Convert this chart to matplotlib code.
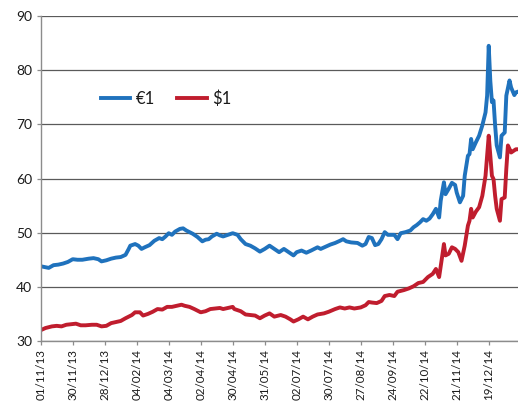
"""
Price trend of €1 vs $1 - daily closes, Nov 2013 to Jan 2015
"""
import matplotlib
matplotlib.use("Agg")
import matplotlib.pyplot as plt

BLUE = "#1f72bd"
RED = "#c01d2e"
GRID_COLOR = "#5a5a5a"
AXIS_COLOR = "#8c8c8c"
TEXT_COLOR = "#1a1a1a"

# trading-day index -> price
eur_idx = [0, 5, 8, 11, 14, 17, 20, 23, 26, 30, 33, 36, 38, 41, 44, 47, 50, 53, 55, 56,
           59, 61, 63, 65, 68, 71, 74, 76, 78, 80, 82, 84, 87, 89, 91, 93, 95, 98, 101, 103,
           105, 107, 110, 112, 114, 117, 120, 123, 125, 128, 131, 134, 137, 140, 143, 146, 149, 152, 155, 158,
           160, 163, 166, 169, 173, 175, 178, 181, 184, 187, 189, 191, 194, 198, 201, 203, 205, 207, 209, 211,
           213, 215, 217, 219, 221, 223, 225, 228, 231, 233, 235, 237, 239, 241, 243, 245, 247, 249, 250, 252,
           253, 255, 257, 259, 260, 262, 264, 265, 267, 268, 269, 270, 272, 274, 276, 278, 279, 280, 281, 282,
           283, 284, 285, 287, 288, 290, 291, 293, 294, 296, 297, 298]
eur_val = [43.8, 43.5, 44.0, 44.1, 44.3, 44.6, 45.1, 45.0, 45.0, 45.2, 45.3, 45.1, 44.7, 44.9, 45.2, 45.4, 45.5, 45.9, 47.0, 47.6,
           47.9, 47.6, 47.0, 47.3, 47.7, 48.5, 49.0, 48.8, 49.3, 49.9, 49.6, 50.2, 50.7, 50.8, 50.4, 50.1, 49.8, 49.2, 48.4, 48.7,
           48.8, 49.3, 49.8, 49.5, 49.3, 49.6, 49.9, 49.6, 48.8, 47.9, 47.6, 47.1, 46.5, 47.0, 47.6, 47.0, 46.4, 47.0, 46.4, 45.8,
           46.4, 46.7, 46.3, 46.7, 47.3, 47.0, 47.4, 47.8, 48.1, 48.5, 48.8, 48.4, 48.2, 48.1, 47.6, 47.9, 49.2, 49.0, 47.7, 47.9,
           48.8, 50.1, 49.6, 49.6, 49.6, 48.8, 49.9, 50.1, 50.4, 51.0, 51.4, 51.9, 52.5, 52.2, 52.6, 53.4, 54.4, 52.8, 55.9, 59.3,
           57.1, 58.1, 59.2, 58.8, 57.4, 55.6, 56.8, 60.5, 64.2, 64.5, 67.3, 65.4, 66.7, 67.9, 69.8, 72.2, 75.3, 84.5, 78.0, 74.1,
           74.4, 69.8, 66.1, 63.9, 67.9, 68.5, 75.3, 78.1, 76.8, 75.4, 75.9, 76.0]

usd_idx = [0, 3, 7, 10, 13, 16, 19, 22, 25, 28, 32, 35, 38, 41, 44, 47, 50, 53, 57, 59,
           62, 64, 67, 70, 73, 76, 79, 82, 85, 88, 90, 93, 96, 100, 103, 106, 109, 112, 114, 117,
           120, 121, 125, 128, 131, 134, 137, 140, 143, 146, 150, 153, 156, 158, 161, 164, 167, 170, 173, 177,
           180, 184, 187, 190, 193, 196, 200, 203, 205, 207, 210, 213, 215, 218, 221, 223, 227, 230, 233, 236,
           239, 242, 245, 247, 249, 251, 252, 253, 255, 257, 259, 261, 263, 265, 267, 268, 269, 270, 272, 274,
           276, 278, 280, 281, 282, 283, 284, 285, 287, 288, 290, 291, 292, 294, 295, 297, 298]
usd_val = [32.0, 32.4, 32.7, 32.8, 32.7, 33.0, 33.1, 33.2, 32.9, 32.9, 33.0, 33.0, 32.7, 32.8, 33.3, 33.5, 33.7, 34.2, 34.8, 35.3,
           35.3, 34.7, 35.0, 35.4, 35.9, 35.8, 36.3, 36.3, 36.5, 36.7, 36.5, 36.3, 35.9, 35.3, 35.5, 35.9, 36.0, 36.1, 35.9, 36.1,
           36.3, 35.9, 35.5, 34.9, 34.8, 34.7, 34.2, 34.7, 35.1, 34.5, 34.8, 34.5, 34.0, 33.6, 34.0, 34.5, 34.0, 34.5, 34.9, 35.1,
           35.4, 35.9, 36.2, 36.0, 36.2, 36.0, 36.2, 36.6, 37.2, 37.1, 37.0, 37.4, 38.3, 38.5, 38.3, 39.1, 39.4, 39.7, 40.1, 40.7,
           40.9, 41.8, 42.4, 43.3, 41.8, 45.8, 47.9, 45.8, 46.1, 47.3, 47.0, 46.4, 44.8, 47.6, 51.3, 52.2, 54.4, 52.8, 53.9, 54.7,
           56.8, 60.5, 67.9, 64.2, 60.5, 59.9, 56.8, 54.4, 52.2, 56.2, 56.5, 61.8, 66.1, 64.8, 65.0, 65.4, 65.4]

tick_idx = [0, 20, 40, 60, 80, 100, 120, 140, 160, 180, 200, 220, 240, 260, 280]
tick_labels = ["01/11/13", "30/11/13", "28/12/13", "04/02/14", "04/03/14", "02/04/14", "30/04/14",
               "31/05/14", "02/07/14", "30/07/14", "27/08/14", "24/09/14", "22/10/14", "21/11/14", "19/12/14"]

plt.rcParams["font.family"] = ["Lato", "DejaVu Sans"]
plt.rcParams["text.color"] = TEXT_COLOR

fig = plt.figure(figsize=(5.18, 4.05), dpi=100)
ax = fig.add_axes([0.0786, 0.158, 0.9214, 0.8025])

ax.plot(eur_idx, eur_val, color=BLUE, linewidth=2.8, solid_joinstyle="round", label="€1")
ax.plot(usd_idx, usd_val, color=RED, linewidth=2.8, solid_joinstyle="round", label="$1")

ax.set_xlim(0, 298.3)
ax.set_ylim(30, 90)
ax.set_yticks(range(30, 91, 10))
ax.set_xticks(tick_idx)
ax.set_xticklabels(tick_labels, rotation=90, va="top", ha="center")

ax.grid(True, axis="y", color=GRID_COLOR, linewidth=0.9)
ax.set_axisbelow(True)
for side in ("top", "right"):
    ax.spines[side].set_visible(False)
for side in ("left", "bottom"):
    ax.spines[side].set_color(AXIS_COLOR)
    ax.spines[side].set_linewidth(1.0)

ax.tick_params(axis="y", length=3, width=0.9, color=AXIS_COLOR, pad=3, labelsize=10, labelcolor=TEXT_COLOR)
ax.tick_params(axis="x", length=3, width=0.9, color=AXIS_COLOR, pad=2.5, labelsize=8.4, labelcolor=TEXT_COLOR)

fig.legend(loc="center left", bbox_to_anchor=(0.1944, 0.7556), ncol=2, frameon=False,
           fontsize=12, borderpad=0, borderaxespad=0, handlelength=1.75,
           handletextpad=0.35, columnspacing=1.35)

fig.savefig("out.png", dpi=100)
